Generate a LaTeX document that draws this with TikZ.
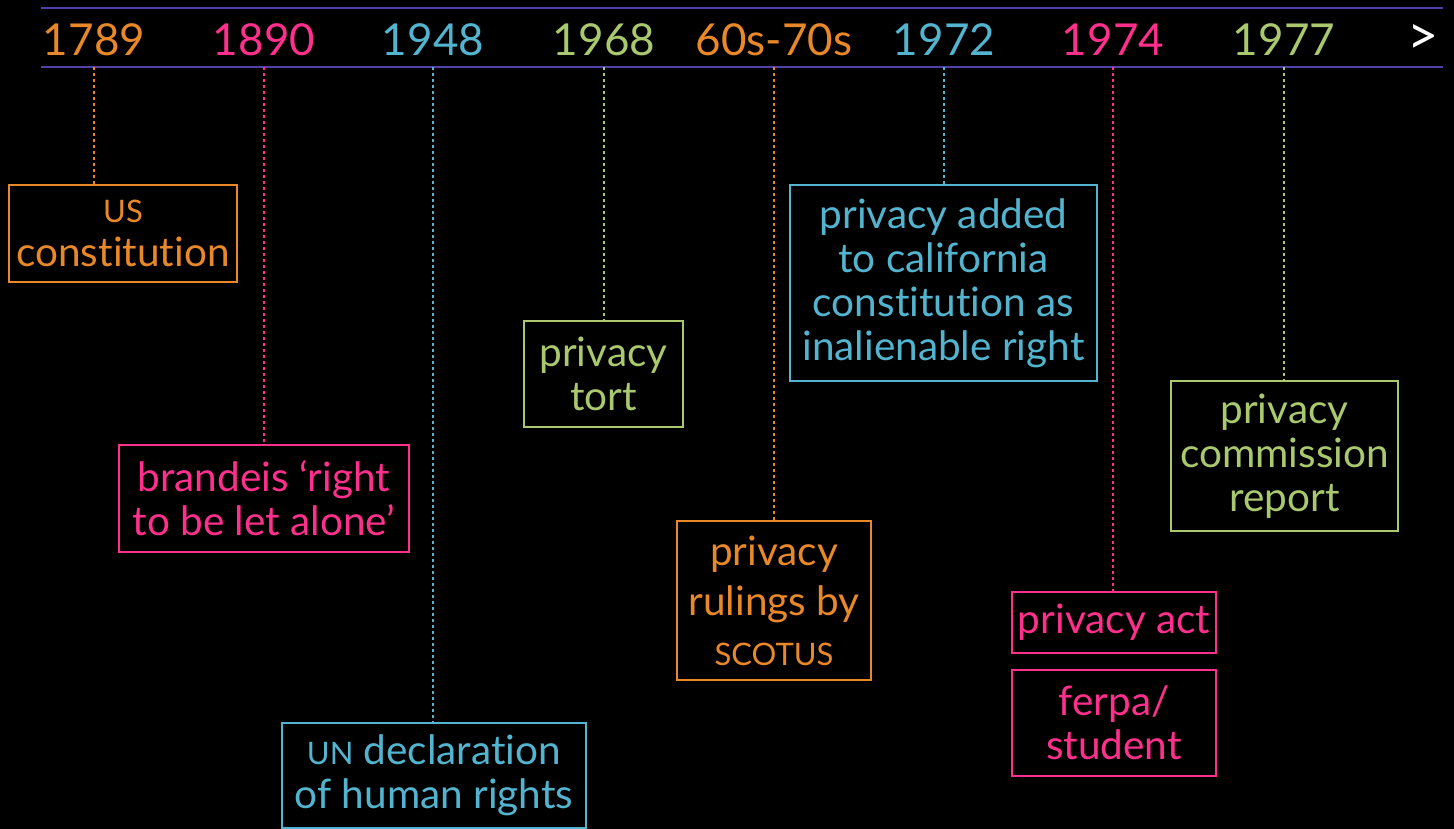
\documentclass[tikz,border=0pt]{standalone}
\usepackage{fontspec}
\setmainfont{Lato}[Ligatures={NoCommon,NoRare,NoDiscretionary}]
\definecolor{corange}{RGB}{232,136,40}
\definecolor{cpink}{RGB}{255,48,140}
\definecolor{cblue}{RGB}{82,180,206}
\definecolor{cgreen}{RGB}{170,200,110}
\definecolor{cline}{RGB}{80,64,170}
\begin{document}
\begin{tikzpicture}[x=1pt,y=-1pt,
  year/.style={font=\fontsize{44}{44}\selectfont, anchor=center, inner sep=0pt},
  evbox/.style={draw=#1, text=#1, line width=1.5pt, align=center, inner sep=0pt,
     font=\fontsize{40.5}{44}\selectfont},
  leader/.style={draw=#1, line width=2.6pt, dash pattern=on 3pt off 3pt}]
\fill[black] (0,0) rectangle (1454,829);
\useasboundingbox (0,0) rectangle (1454,829);
\coordinate (tl) at (41,8); \coordinate (tr) at (1443,8);
\coordinate (bl) at (41,67); \coordinate (br) at (1443,67);
\draw[cline, line width=1.5pt] (tl) -- (tr);
\draw[cline, line width=1.5pt] (bl) -- (br);
% years
\node[year, text=corange] (y1) at (94,40) {1789};
\node[year, text=cpink] (y2) at (264,40) {1890};
\node[year, text=cblue] (y3) at (433,40) {1948};
\node[year, text=cgreen] (y4) at (604,40) {1968};
\node[year, text=corange] (y5) at (774,40) {60s-70s};
\node[year, text=cblue] (y6) at (944,40) {1972};
\node[year, text=cpink] (y7) at (1113,40) {1974};
\node[year, text=cgreen] (y8) at (1284,40) {1977};
\node[year, text=white, font=\fontsize{54}{54}\selectfont] (y9) at (1423,40) {>};
% boxes
\node[evbox=corange, minimum width=228pt, minimum height=97pt] (b1) at (123,233.5)
  {{\fontsize{31}{42}\selectfont US}\\constitution};
\node[evbox=cpink, minimum width=290pt, minimum height=107pt] (b2) at (264,498.5)
  {brandeis ‘right\\to be let alone’};
\node[evbox=cblue, minimum width=304pt, minimum height=105pt] (b3) at (434,775.5)
  {{\fontsize{31}{44}\selectfont UN} declaration\\of human rights};
\node[evbox=cgreen, minimum width=159pt, minimum height=106pt] (b4) at (603.5,374)
  {privacy\\tort};
\node[evbox=corange, minimum width=194pt, minimum height=159pt, font=\fontsize{40.5}{50}\selectfont] (b5) at (774,600.5)
  {privacy\\rulings by\\{\fontsize{31}{50}\selectfont SCOTUS}};
\node[evbox=cblue, minimum width=307pt, minimum height=196pt] (b6) at (943.5,283)
  {privacy added\\to california\\constitution as\\inalienable right};
\node[evbox=cpink, minimum width=204pt, minimum height=61pt] (b7) at (1114,622.5)
  {privacy act};
\node[evbox=cpink, minimum width=204pt, minimum height=106pt] (b8) at (1114,723)
  {ferpa/\\student};
\node[evbox=cgreen, minimum width=227pt, minimum height=150pt] (b9) at (1284.5,456)
  {privacy\\commission\\report};
% leaders
\coordinate (t1) at (94,67); \coordinate (t2) at (264,67); \coordinate (t3) at (433,67);
\coordinate (t4) at (604,67); \coordinate (t5) at (774,67); \coordinate (t6) at (944,67);
\coordinate (t7) at (1113,67); \coordinate (t8) at (1284,67);
\draw[leader=corange] (t1) -- (t1 |- b1.north);
\draw[leader=cpink] (t2) -- (t2 |- b2.north);
\draw[leader=cblue] (t3) -- (t3 |- b3.north);
\draw[leader=cgreen] (t4) -- (t4 |- b4.north);
\draw[leader=corange] (t5) -- (t5 |- b5.north);
\draw[leader=cblue] (t6) -- (t6 |- b6.north);
\draw[leader=cpink] (t7) -- (t7 |- b7.north);
\draw[leader=cgreen] (t8) -- (t8 |- b9.north);
\end{tikzpicture}
\end{document}
